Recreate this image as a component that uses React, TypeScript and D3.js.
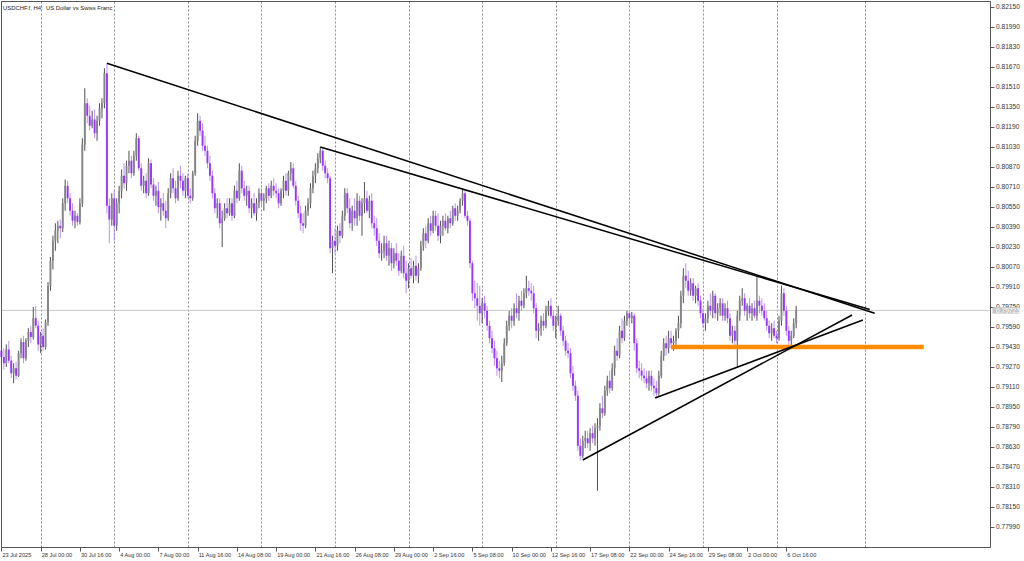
import React from "react";
import * as d3 from "d3";

// ---- data (price offsets in units of 0.0001 above 0.78000) ----
const BASE = 0.78;
const PIP = 0.0001;

const open = [
  140,135,130,141,132,122,126,120,138,147, 134,148,155,151,166,160,145,152,143,163,
  192,212,228,236,240,238,258,272,262,252, 244,248,243,258,305,338,328,320,325,314,
  324,334,338,362,256,245,262,240,258,268, 280,274,288,292,282,296,310,286,272,276,
  266,290,273,264,268,255,258,252,246,266, 278,270,262,280,276,268,278,264,262,282,
  308,324,316,304,300,290,280,266,254,258, 242,246,254,250,258,248,268,262,284,270,
  264,268,254,258,250,258,266,260,262,270, 264,272,268,266,258,268,276,268,282,286,
  272,260,250,242,240,252,258,270,280,286, 294,300,288,282,278,222,228,224,236,232,
  248,266,254,242,252,246,260,248,258,262, 252,260,242,238,228,218,220,226,216,222,
  210,218,212,204,216,202,196,206,200,208, 200,206,224,234,228,242,236,248,240,232,
  240,244,238,246,242,254,248,252,260,266, 248,244,210,186,182,176,170,178,172,160,
  150,142,134,126,124,130,146,160,168,164, 174,170,180,176,186,190,188,186,174,156,
  158,164,160,172,176,168,160,164,168,156, 148,140,138,122,112,104,64,56,68,70,
  66,74,70,78,80,94,90,108,116,110, 126,140,136,156,150,164,170,166,168,146,
  126,124,120,118,114,120,112,110,106,120, 136,146,142,150,146,148,156,162,184,200,
  196,188,194,184,190,180,170,162,166,176, 172,184,170,174,178,168,174,166,152,156,
  148,168,180,182,172,176,170,174,168,180, 176,172,166,160,154,158,152,150,164,186,
  172,156,148,152,162,
];
const high = [
  150,142,145,148,136,130,131,140,150,152, 150,158,160,175,176,164,155,158,165,195,
  215,232,242,244,245,262,277,276,266,258, 252,250,262,310,350,342,336,332,333,328,
  338,342,366,370,262,266,268,262,272,285, 290,292,300,296,300,314,312,290,280,282,
  294,293,278,272,275,262,266,260,270,282, 286,276,284,288,282,280,282,270,284,312,
  330,328,322,312,304,296,284,270,262,262, 252,258,262,262,262,272,276,290,288,276,
  272,272,262,266,262,270,270,266,272,274, 276,278,274,270,270,280,282,284,291,290,
  276,264,256,250,256,262,274,284,290,298, 303,302,292,286,280,232,238,240,242,252,
  270,270,262,256,262,266,264,262,275,268, 264,266,248,246,234,226,232,232,228,226,
  222,226,218,220,224,212,210,214,212,216, 210,228,238,240,246,248,252,252,250,244,
  248,250,248,252,256,258,256,262,270,268, 252,246,212,196,194,192,182,184,176,164,
  156,148,140,132,136,150,164,172,174,178, 186,184,188,190,200,196,194,192,178,162,
  168,170,176,180,182,172,168,176,170,160, 152,146,142,128,116,108,70,72,76,76,
  78,80,82,86,98,104,112,120,124,130, 144,150,160,166,168,172,172,171,170,150,
  132,130,126,124,124,124,118,116,124,140, 150,152,156,156,152,158,168,188,206,210,
  204,198,198,192,194,184,174,170,180,186, 188,186,178,182,182,178,180,170,160,160,
  172,184,190,186,178,182,178,180,200,184, 182,178,172,164,162,164,156,168,192,190,
  176,160,156,166,176,
];
const low = [
  128,125,127,130,118,114,117,119,134,130, 132,143,146,149,158,140,138,140,141,160,
  188,205,220,226,230,235,252,258,248,240, 238,240,241,255,300,322,316,318,310,308,
  320,326,334,250,226,240,228,236,250,262, 270,268,282,278,280,292,284,268,266,262,
  264,270,260,256,250,244,248,238,244,262, 266,258,260,270,264,262,262,258,260,280,
  304,312,300,296,286,276,262,250,246,238, 223,244,246,248,244,246,258,260,266,260,
  256,250,246,248,244,254,256,252,258,260, 262,264,262,254,256,262,264,264,276,270,
  256,246,236,234,238,248,254,266,274,282, 290,284,278,274,218,202,218,220,226,230,
  244,250,238,236,240,240,244,232,250,250, 246,238,232,224,214,212,214,212,208,204,
  206,208,200,202,198,186,190,198,194,196, 194,204,220,222,226,232,234,236,228,226,
  232,236,234,238,240,244,244,250,256,246, 240,206,180,174,164,160,162,166,156,146,
  138,128,120,118,115,128,144,156,158,160, 166,164,172,174,182,184,180,170,150,148,
  152,156,158,168,166,156,150,160,152,144, 136,134,118,108,100,60,52,54,62,62,
  60,66,64,28,76,86,88,104,106,108, 120,132,134,146,148,160,160,162,140,122,
  118,116,114,110,108,108,104,102,104,118, 132,136,138,142,140,144,150,158,178,190,
  184,184,180,178,176,166,158,156,162,168, 166,166,164,168,164,164,162,148,146,142,
  127,164,176,168,164,166,164,166,164,170, 168,164,156,150,148,150,146,148,160,168,
  152,144,142,150,158,
];
const close = [
  135,130,141,132,122,126,120,138,147,134, 148,155,151,166,160,145,152,143,163,192,
  212,228,236,240,238,258,272,262,252,244, 248,243,258,305,338,328,320,325,314,324,
  334,338,362,256,245,262,240,258,268,280, 274,288,292,282,296,310,286,272,276,266,
  290,273,264,268,255,258,252,246,266,278, 270,262,280,276,268,278,264,262,282,308,
  324,316,304,300,290,280,266,254,258,242, 246,254,250,258,248,268,262,284,270,264,
  268,254,258,250,258,266,260,262,270,264, 272,268,266,258,268,276,268,282,286,272,
  260,250,242,240,252,258,270,280,286,294, 300,288,282,278,222,228,224,236,232,248,
  266,254,242,252,246,260,248,258,262,252, 260,242,238,228,218,220,226,216,222,210,
  218,212,204,216,202,196,206,200,208,200, 206,224,234,228,242,236,248,240,232,240,
  244,238,246,242,254,248,252,260,266,248, 244,210,186,182,176,170,178,172,160,150,
  142,134,126,124,130,146,160,168,164,174, 170,180,176,186,190,188,186,174,156,158,
  164,160,172,176,168,160,164,168,156,148, 140,138,122,112,104,64,56,68,70,66,
  74,70,78,80,94,90,108,116,110,126, 140,136,156,150,164,170,166,168,146,126,
  124,120,118,114,120,112,110,106,120,136, 146,142,150,146,148,156,162,184,200,196,
  188,194,184,190,180,170,162,166,176,172, 184,170,174,178,168,174,166,152,156,148,
  168,180,182,172,176,170,174,168,180,176, 172,166,160,154,158,152,150,164,186,172,
  156,148,152,162,172,
];

const priceTicks = [
  0.8215,0.8199,0.8183,0.8167,0.8151,0.8135,0.8119,0.8103,0.8087,0.8071,0.8055,0.8039,0.8023,0.8007,
  0.7991,0.7975,0.7959,0.7943,0.7927,0.7911,0.7895,0.7879,0.7863,0.7847,0.7831,0.7815,0.7799,
];
const dateLabels = [
  "23 Jul 2025","28 Jul 00:00","30 Jul 16:00","4 Aug 00:00","7 Aug 00:00","11 Aug 16:00",
  "14 Aug 08:00","19 Aug 00:00","21 Aug 16:00","26 Aug 08:00","29 Aug 00:00","2 Sep 16:00",
  "5 Sep 08:00","10 Sep 00:00","12 Sep 16:00","17 Sep 08:00","22 Sep 00:00","24 Sep 16:00",
  "29 Sep 08:00","2 Oct 00:00","6 Oct 16:00",
];
const dateLabelBars = [0,16,32,48,64,80,96,112,128,144,160,176,192,208,224,240,256,272,288,304,320];
const weekGridBars = [16,46,76,106,136,166,196,226,256,286,316,352];

const currentPrice = 0.79723;
// trend lines: [bar1, level1, bar2, level2] (levels in 0.0001 above base)
const trendLines = [
  [43, 370, 356, 170],
  [130, 303, 354, 173],
  [237, 52.6, 346.8, 168.6],
  [266.5, 102.2, 351.2, 164.6],
];
const supportLevel = [273, 376, 143];

const title = "USDCHF.f, H4:  US Dollar vs Swiss Franc";

const toPrice = (v: number) => BASE + v * PIP;

export default function App() {
  const L = 1.5, R = 990.5, T = 1.5, B = 547.5;
  const x = d3.scaleLinear().domain([0, 400]).range([1.4, 1.4 + 400 * 2.453]);
  const y = d3.scaleLinear().domain([0.8215, 0.7799]).range([7, 527]);
  const fmt = d3.format(".5f");
  const font = "'Liberation Sans', Arial, sans-serif";
  const bodyW = 1.9;

  return (
    <svg width={1024} height={561} style={{ position: "absolute", left: 0, top: 0, background: "#fff" }}
      xmlns="http://www.w3.org/2000/svg">
      <rect x={0} y={0} width={1024} height={561} fill="#ffffff" />
      {/* weekly grid */}
      {weekGridBars.map((b, i) => (
        <line key={"g" + i} x1={Math.round(x(b)) + 0.5} x2={Math.round(x(b)) + 0.5} y1={T} y2={B}
          stroke="#6a6a6a" strokeWidth={0.8} strokeDasharray="2,2" />
      ))}
      {/* current price line */}
      <line x1={L} x2={R} y1={y(currentPrice)} y2={y(currentPrice)} stroke="#c8c8c8" strokeWidth={1} />
      {/* candles */}
      {close.map((c, i) => {
        const o = open[i];
        const bull = c >= o;
        const cx = x(i);
        const yo = y(toPrice(o)), yc = y(toPrice(c));
        const top = Math.min(yo, yc), h = Math.max(1, Math.abs(yo - yc));
        return (
          <g key={"c" + i}>
            <line x1={cx} x2={cx} y1={y(toPrice(high[i]))} y2={y(toPrice(low[i]))}
              stroke={bull ? "#3c3c3c" : "#b285f0"} strokeWidth={0.9} />
            <rect x={cx - bodyW / 2} y={top} width={bodyW} height={h}
              fill={bull ? "#868686" : "#9933ff"} />
          </g>
        );
      })}
      {/* support level */}
      <line x1={x(supportLevel[0])} x2={x(supportLevel[1])} y1={y(toPrice(supportLevel[2]))} y2={y(toPrice(supportLevel[2]))}
        stroke="#ff8c00" strokeWidth={4.5} />
      {/* trend lines */}
      {trendLines.map((t, i) => (
        <line key={"t" + i} x1={x(t[0])} y1={y(toPrice(t[1]))} x2={x(t[2])} y2={y(toPrice(t[3]))}
          stroke="#000" strokeWidth={1.5} />
      ))}
      {/* frame */}
      <line x1={L} x2={R} y1={T} y2={T} stroke="#555" strokeWidth={1} />
      <line x1={L} x2={L} y1={T} y2={B} stroke="#555" strokeWidth={1} />
      <line x1={R} x2={R} y1={T} y2={B} stroke="#555" strokeWidth={1} />
      <line x1={L} x2={R} y1={B} y2={B} stroke="#555" strokeWidth={1} />
      {/* title */}
      <text x={3} y={9.5} fontFamily={font} fontSize={5.9} fill="#222" style={{ whiteSpace: "pre" }}>{title}</text>
      {/* price axis */}
      {priceTicks.map((p, i) => (
        <g key={"p" + i}>
          <line x1={R} x2={R + 4} y1={Math.round(y(p)) + 0.5} y2={Math.round(y(p)) + 0.5} stroke="#555" strokeWidth={1} />
          <text x={R + 5.5} y={y(p)} dy="0.35em" fontFamily={font} fontSize={6.6} fill="#333">{fmt(p)}</text>
        </g>
      ))}
      {/* current price tag */}
      <rect x={R + 2} y={y(currentPrice) - 3.2} width={27} height={6.4} fill="#c4c4c4" />
      <text x={R + 5.5} y={y(currentPrice)} dy="0.35em" fontFamily={font} fontSize={6.6} fill="#ffffff">{fmt(currentPrice)}</text>
      {/* time axis */}
      {dateLabelBars.map((b, i) => (
        <g key={"d" + i}>
          <line x1={Math.round(x(b)) + 0.5} x2={Math.round(x(b)) + 0.5} y1={B} y2={B + 4} stroke="#555" strokeWidth={1} />
          <text x={x(b) + 1} y={B + 9.5} fontFamily={font} fontSize={5.6} fill="#333">{dateLabels[i]}</text>
        </g>
      ))}
    </svg>
  );
}
